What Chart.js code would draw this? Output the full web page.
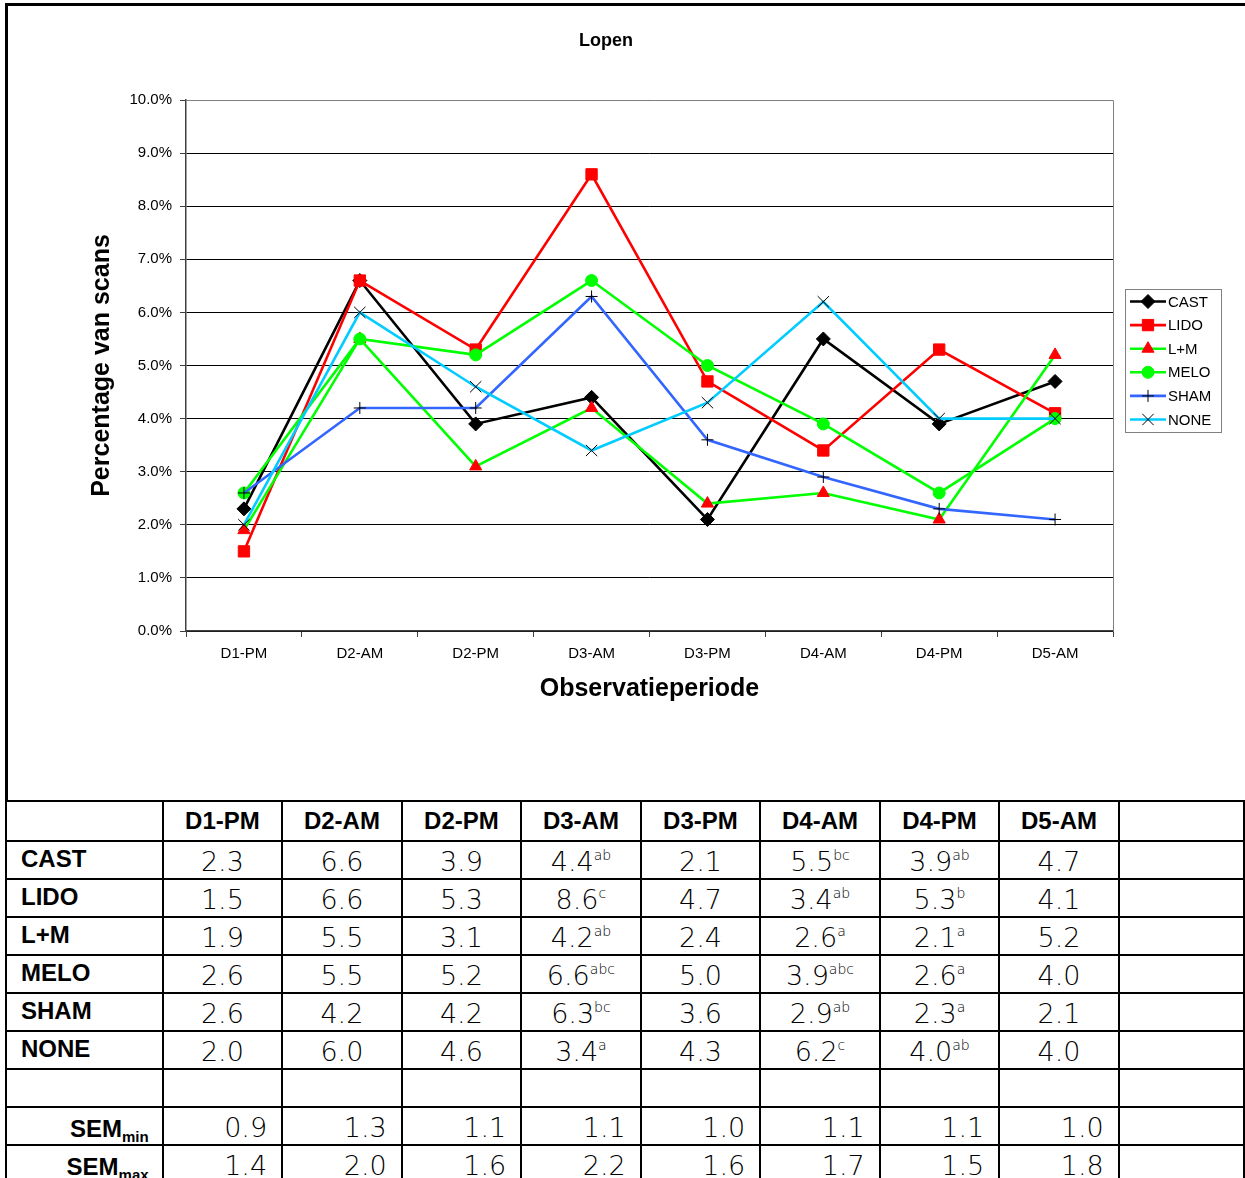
<!DOCTYPE html>
<html lang="nl">
<head>
  <meta charset="UTF-8">
  <title>Lopen</title>
  <script src="https://cdn.jsdelivr.net/npm/chart.js"></script>
  <style>
    body { margin: 0; width: 1245px; height: 1178px; overflow: hidden; background: #fff; position: relative; }
    .frame-top { position: absolute; left: 5px; top: 3px; width: 1240px; height: 3px; background: #000; }
    .frame-left { position: absolute; left: 5px; top: 3px; width: 3px; height: 798px; background: #000; }
    #wrap { position: absolute; left: 9px; top: 6px; width: 1236px; height: 794px; }
    #tbl { position: absolute; left: 5px; top: 800px; border-collapse: collapse; table-layout: fixed; }
    #tbl tr { height: 38px; }
    #tbl thead tr { height: 40px; }
    #tbl td, #tbl th { border: 2px solid #000; padding: 0; line-height: 28px; vertical-align: bottom; white-space: nowrap; overflow: hidden; }
    #tbl th { font: bold 24px Arial, "Liberation Sans", sans-serif; }
    #tbl thead th { text-align: center; padding-bottom: 5px; }
    #tbl th.lab { text-align: left; padding-left: 14px; padding-bottom: 5px; }
    #tbl th.sem { text-align: right; padding-right: 13px; padding-bottom: 1px; }
    #tbl td { font: 200 27px "DejaVu Sans", sans-serif; color: #000; text-align: center; padding-bottom: 1px; }
    #tbl td.r { text-align: right; padding-right: 14px; }
    #tbl sup { font: 300 14px "DejaVu Sans", sans-serif; vertical-align: 11px; line-height: 0; }
    #tbl sub { font-size: 15px; vertical-align: -5px; line-height: 0; }
  </style>
</head>
<body>
  <div class="frame-top"></div>
  <div class="frame-left"></div>
  <div id="wrap"><canvas id="chart"></canvas></div>
  <table id="tbl">
    <colgroup>
      <col style="width:159px"><col style="width:121.2px"><col style="width:121.2px"><col style="width:121.2px">
      <col style="width:121.2px"><col style="width:121.2px"><col style="width:121.2px"><col style="width:121.2px">
      <col style="width:121.2px"><col style="width:130px">
    </colgroup>
    <thead><tr id="head"></tr></thead>
    <tbody id="body"></tbody>
  </table>
  <script>
    // waarden uit de tabel (percentage van scans)
    const periods = ["D1-PM", "D2-AM", "D2-PM", "D3-AM", "D3-PM", "D4-AM", "D4-PM", "D5-AM"];
    const groups = ["CAST", "LIDO", "L+M", "MELO", "SHAM", "NONE"];
    const cast = [2.3, 6.6, 3.9, 4.4, 2.1, 5.5, 3.9, 4.7];
    const lido = [1.5, 6.6, 5.3, 8.6, 4.7, 3.4, 5.3, 4.1];
    const lm   = [1.9, 5.5, 3.1, 4.2, 2.4, 2.6, 2.1, 5.2];
    const melo = [2.6, 5.5, 5.2, 6.6, 5.0, 3.9, 2.6, 4.0];
    const sham = [2.6, 4.2, 4.2, 6.3, 3.6, 2.9, 2.3, 2.1];
    const none = [2.0, 6.0, 4.6, 3.4, 4.3, 6.2, 4.0, 4.0];
    // letters bij D3-AM, D4-AM, D4-PM
    const castSup = ["", "", "", "ab", "", "bc", "ab", ""];
    const lidoSup = ["", "", "", "c", "", "ab", "b", ""];
    const lmSup   = ["", "", "", "ab", "", "a", "a", ""];
    const meloSup = ["", "", "", "abc", "", "abc", "a", ""];
    const shamSup = ["", "", "", "bc", "", "ab", "a", ""];
    const noneSup = ["", "", "", "a", "", "c", "ab", ""];
    const semMin = [0.9, 1.3, 1.1, 1.1, 1.0, 1.1, 1.1, 1.0];
    const semMax = [1.4, 2.0, 1.6, 2.2, 1.6, 1.7, 1.5, 1.8];
    const yTicks = [0, 1, 2, 3, 4, 5, 6, 7, 8, 9, 10];

    const allSeries = [cast, lido, lm, melo, sham, none];
    const allSup = [castSup, lidoSup, lmSup, meloSup, shamSup, noneSup];

    // tabel
    const head = document.getElementById("head");
    head.innerHTML = "<th></th>" + periods.map(p => "<th>" + p + "</th>").join("") + "<th></th>";
    const body = document.getElementById("body");
    groups.forEach((g, i) => {
      const tr = document.createElement("tr");
      tr.innerHTML = '<th class="lab">' + g + "</th>" +
        allSeries[i].map((v, j) => "<td>" + v.toFixed(1) + (allSup[i][j] ? "<sup>" + allSup[i][j] + "</sup>" : "") + "</td>").join("") +
        "<td></td>";
      body.appendChild(tr);
    });
    body.insertAdjacentHTML("beforeend", "<tr>" + "<td></td>".repeat(10) + "</tr>");
    body.insertAdjacentHTML("beforeend", '<tr><th class="sem">SEM<sub>min</sub></th>' +
      semMin.map(v => '<td class="r">' + v.toFixed(1) + "</td>").join("") + "<td></td></tr>");
    body.insertAdjacentHTML("beforeend", '<tr><th class="sem">SEM<sub>max</sub></th>' +
      semMax.map(v => '<td class="r">' + v.toFixed(1) + "</td>").join("") + "<td></td></tr>");

    // grafiek
    Chart.defaults.font.family = "Arial, 'Liberation Sans', sans-serif";
    Chart.defaults.font.size = 15;
    Chart.defaults.color = "#000";

    const lineColors = ["#000000", "#ff0000", "#00ff00", "#00ff00", "#3366ff", "#00ccff"];
    const markColors = ["#000000", "#ff0000", "#ff0000", "#00ff00", "#000000", "#000000"];
    const markStyles = ["rectRot", "rect", "triangle", "circle", "cross", "crossRot"];
    const markSizes = [7, 8, 7, 6, 6, 8];

    const datasets = groups.map((g, i) => ({
      label: g,
      data: allSeries[i],
      borderColor: lineColors[i],
      borderWidth: 2.6,
      pointStyle: markStyles[i],
      pointRadius: markSizes[i],
      pointHoverRadius: markSizes[i],
      pointBackgroundColor: markColors[i],
      pointBorderColor: markColors[i],
      pointBorderWidth: 1,
      tension: 0,
      order: groups.length - 1 - i
    }));

    const plotFrame = {
      id: "plotFrame",
      beforeDatasetsDraw(chart) {
        const a = chart.chartArea, ctx = chart.ctx;
        ctx.save();
        ctx.strokeStyle = "#808080";
        ctx.lineWidth = 1;
        ctx.beginPath();
        ctx.moveTo(a.left, a.top + 0.5);
        ctx.lineTo(a.right + 0.5, a.top + 0.5);
        ctx.lineTo(a.right + 0.5, a.bottom);
        ctx.stroke();
        ctx.restore();
      }
    };

    // titel en legenda
    const titleAndLegend = {
      id: "titleAndLegend",
      afterDraw(chart) {
        const a = chart.chartArea, ctx = chart.ctx;
        ctx.save();
        ctx.fillStyle = "#000";
        ctx.font = "bold 18px Arial, 'Liberation Sans', sans-serif";
        ctx.textAlign = "center";
        ctx.textBaseline = "middle";
        ctx.fillText("Lopen", 597, 35);

        const x = a.right + 12, y = a.top + 189, w = 96, h = 143;
        ctx.strokeStyle = "#808080";
        ctx.lineWidth = 1;
        ctx.strokeRect(x + 0.5, y + 0.5, w, h);
        ctx.font = "15px Arial, 'Liberation Sans', sans-serif";
        ctx.textAlign = "left";
        chart.data.datasets.forEach((ds, i) => {
          const cy = y + 12.5 + i * 23.6;
          ctx.strokeStyle = ds.borderColor;
          ctx.lineWidth = 2.6;
          ctx.beginPath();
          ctx.moveTo(x + 5, cy);
          ctx.lineTo(x + 41, cy);
          ctx.stroke();
          ctx.fillStyle = ds.pointBackgroundColor;
          ctx.strokeStyle = ds.pointBorderColor;
          ctx.lineWidth = 1;
          Chart.helpers.drawPoint(ctx, { pointStyle: ds.pointStyle, radius: ds.pointRadius, rotation: 0, borderWidth: 1 }, x + 23, cy);
          ctx.fillStyle = "#000";
          ctx.fillText(ds.label, x + 43, cy + 1);
        });
        ctx.restore();
      }
    };

    new Chart(document.getElementById("chart"), {
      type: "line",
      data: { labels: periods, datasets: datasets },
      options: {
        responsive: true,
        maintainAspectRatio: false,
        animation: false,
        layout: { padding: { left: 74, right: 132, top: 94, bottom: 92 } },
        plugins: {
          legend: { display: false },
          tooltip: { enabled: false },
          title: { display: false }
        },
        scales: {
          x: {
            offset: true,
            afterFit: s => { s.height = 77; },
            grid: { offset: true, drawOnChartArea: false, tickLength: 6, tickColor: "#404040" },
            border: { color: "#404040", width: 1.5 },
            ticks: { padding: 8, maxRotation: 0 },
            title: { display: true, text: "Observatieperiode", font: { size: 25, weight: "bold" }, padding: { top: 4, bottom: 4 } }
          },
          y: {
            min: 0,
            max: 10,
            afterFit: s => { s.width = 103; },
            afterBuildTicks: s => { s.ticks = yTicks.map(v => ({ value: v })); },
            grid: { color: "#000", lineWidth: 1, tickLength: 6, tickColor: "#404040" },
            border: { color: "#404040", width: 1.5 },
            ticks: { padding: 8, callback: v => v.toFixed(1) + "%" },
            title: { display: true, text: "Percentage van scans", font: { size: 25, weight: "bold" }, padding: { top: 4, bottom: 4 } }
          }
        }
      },
      plugins: [plotFrame, titleAndLegend]
    });
  </script>
</body>
</html>
